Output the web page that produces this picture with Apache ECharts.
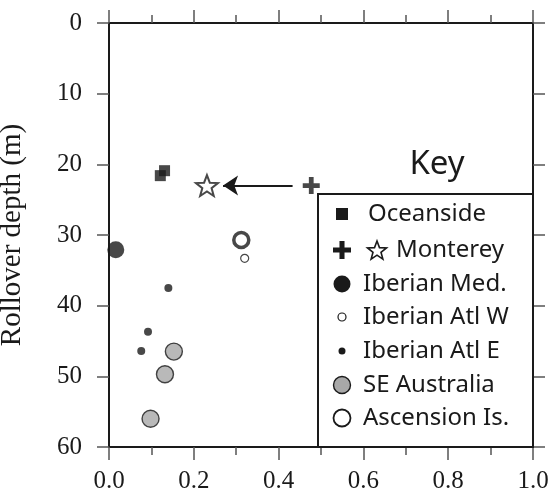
<!DOCTYPE html>
<html>
<head>
<meta charset="utf-8">
<script src="https://cdn.jsdelivr.net/npm/echarts@6/dist/echarts.min.js"></script>
</head>
<body style="margin:0;background:#fff">
<div id="chart" style="width:553px;height:502px"></div>
<script>
// data: [x, rollover depth (m)]
const oceanside = [[0.131, 20.9], [0.121, 21.6]];
const montereyPlus = [[0.477, 23.0]];
const montereyStar = [[0.231, 23.0]];
const montereyArrow = [[0.433, 23.0], [0.269, 23.0]];
const iberianMed = [[0.016, 32.1]];
const iberianAtlW = [[0.32, 33.3]];
const iberianAtlE = [[0.140, 37.5], [0.092, 43.7], [0.076, 46.4]];
const seAustralia = [[0.153, 46.5], [0.132, 49.7], [0.098, 56.0]];
const ascension = [[0.312, 30.7]];

const legendNames = ['Oceanside', 'Monterey', 'Iberian Med.', 'Iberian Atl W', 'Iberian Atl E', 'SE Australia', 'Ascension Is.'];

const PLUS = 'path://M0.36,0H0.64V0.36H1V0.64H0.64V1H0.36V0.64H0V0.36H0.36Z';
const STAR = 'path://M0,-1L0.247,-0.34L0.951,-0.309L0.399,0.13L0.588,0.809L0,0.42L-0.588,0.809L-0.399,0.13L-0.951,-0.309L-0.247,-0.34Z';

const ink = '#1a1a1a';
const serif = 'Liberation Serif';
const sans = 'Noto Sans';

const chart = echarts.init(document.getElementById('chart'));

// legend box drawn by hand (the Monterey row carries two symbols)
function starPoints(cx, cy, r) {
  const pts = [];
  for (let i = 0; i < 10; i++) {
    const a = -Math.PI / 2 + i * Math.PI / 5;
    const rr = i % 2 === 0 ? r : r * 0.42;
    pts.push([cx + rr * Math.cos(a), cy + rr * Math.sin(a)]);
  }
  return pts;
}
function plusPoints(cx, cy, s) {
  const a = s / 2, b = s * 0.14;
  return [[cx - b, cy - a], [cx + b, cy - a], [cx + b, cy - b], [cx + a, cy - b], [cx + a, cy + b], [cx + b, cy + b],
    [cx + b, cy + a], [cx - b, cy + a], [cx - b, cy + b], [cx - a, cy + b], [cx - a, cy - b], [cx - b, cy - b]];
}

const rowY = [214, 250, 284, 317, 351, 385, 418];
const iconX = 342;
const legendGraphics = [
  { type: 'rect', shape: { x: 318, y: 194, width: 215, height: 253 }, style: { fill: '#fff', stroke: ink, lineWidth: 2 } },
  { type: 'text', x: 437, y: 165, style: { text: 'Key', fontSize: 33, fontFamily: sans, fill: ink, align: 'center', verticalAlign: 'middle' } },
  { type: 'rect', shape: { x: iconX - 6, y: rowY[0] - 6, width: 12, height: 12 }, style: { fill: ink } },
  { type: 'polygon', shape: { points: plusPoints(iconX, rowY[1], 18) }, style: { fill: ink } },
  { type: 'polygon', shape: { points: starPoints(377, rowY[1] + 1, 10) }, style: { fill: '#fff', stroke: ink, lineWidth: 1.6 } },
  { type: 'circle', shape: { cx: iconX, cy: rowY[2], r: 8.5 }, style: { fill: ink } },
  { type: 'circle', shape: { cx: iconX, cy: rowY[3], r: 4 }, style: { fill: '#fff', stroke: ink, lineWidth: 1.2 } },
  { type: 'circle', shape: { cx: iconX, cy: rowY[4], r: 3.5 }, style: { fill: ink } },
  { type: 'circle', shape: { cx: iconX, cy: rowY[5], r: 8.5 }, style: { fill: '#a8a8a8', stroke: ink, lineWidth: 1.4 } },
  { type: 'circle', shape: { cx: iconX, cy: rowY[6], r: 8.5 }, style: { fill: '#fff', stroke: ink, lineWidth: 1.8 } }
];
legendNames.forEach((name, i) => {
  const x = i === 0 ? 368 : (i === 1 ? 396 : 363);
  legendGraphics.push({
    type: 'text', x: x, y: rowY[i],
    style: { text: name, fontSize: 24, fontFamily: sans, fill: ink, align: 'left', verticalAlign: 'middle' }
  });
});
legendGraphics.forEach(g => { g.z = 10; });

// tick label style, also passed as rich text so it sticks
const tickText = { fontFamily: serif, fontSize: 25, color: ink };

const xAxisBase = {
  type: 'value', min: 0, max: 1, interval: 0.2,
  axisLine: { show: true, onZero: false, lineStyle: { color: ink, width: 2 } },
  axisTick: { show: true, inside: false, length: 13, lineStyle: { color: '#555', width: 1.5 } },
  minorTick: { show: true, splitNumber: 2, length: 8, lineStyle: { color: '#555', width: 1.5 } },
  splitLine: { show: false }
};
const yAxisBase = {
  type: 'value', min: 0, max: 60, interval: 10, inverse: true,
  axisLine: { show: true, onZero: false, lineStyle: { color: ink, width: 2 } },
  axisTick: { show: true, inside: false, length: 12, lineStyle: { color: '#555', width: 1.5 } },
  splitLine: { show: false }
};

const option = {
  animation: false,
  grid: { left: 109, right: 20, top: 23, bottom: 55, outerBoundsMode: 'none' },
  xAxis: [
    Object.assign({}, xAxisBase, {
      position: 'bottom',
      axisLabel: Object.assign({ margin: 22, rich: { t: tickText }, formatter: v => '{t|' + v.toFixed(1) + '}' }, tickText)
    }),
    Object.assign({}, xAxisBase, { position: 'top', axisLabel: { show: false } })
  ],
  yAxis: [
    Object.assign({}, yAxisBase, {
      position: 'left',
      name: 'Rollover depth (m)',
      nameLocation: 'middle',
      nameRotate: 90,
      nameGap: 82,
      nameTextStyle: { fontFamily: serif, fontSize: 29, color: ink },
      axisLabel: Object.assign({ margin: 27, rich: { t: tickText }, formatter: v => '{t|' + v + '}' }, tickText)
    }),
    Object.assign({}, yAxisBase, { position: 'right', axisLabel: { show: false } })
  ],
  graphic: legendGraphics,
  series: [
    {
      name: 'Oceanside', type: 'scatter', data: oceanside, symbol: 'rect', symbolSize: 11,
      itemStyle: { color: ink }
    },
    {
      name: 'Monterey', type: 'scatter', data: montereyPlus, symbol: PLUS, symbolSize: 17,
      itemStyle: { color: ink },
      markLine: {
        silent: true, symbol: ['none', 'arrow'], symbolSize: [15, 15],
        label: { show: false },
        lineStyle: { color: ink, width: 2, type: 'solid' },
        data: [[{ coord: montereyArrow[0] }, { coord: montereyArrow[1] }]]
      }
    },
    {
      name: 'Monterey (revised)', type: 'scatter', data: montereyStar, symbol: STAR, symbolSize: 22,
      symbolKeepAspect: true,
      itemStyle: { color: '#fff', borderColor: ink, borderWidth: 2 }
    },
    {
      name: 'Iberian Med.', type: 'scatter', data: iberianMed, symbol: 'circle', symbolSize: 17,
      itemStyle: { color: ink }
    },
    {
      name: 'Ascension Is.', type: 'scatter', data: ascension, symbol: 'circle', symbolSize: 15,
      itemStyle: { color: '#fff', borderColor: ink, borderWidth: 3.5 }
    },
    {
      name: 'Iberian Atl W', type: 'scatter', data: iberianAtlW, symbol: 'circle', symbolSize: 8,
      itemStyle: { color: '#fff', borderColor: ink, borderWidth: 1.2 }
    },
    {
      name: 'Iberian Atl E', type: 'scatter', data: iberianAtlE, symbol: 'circle', symbolSize: 8,
      itemStyle: { color: ink }
    },
    {
      name: 'SE Australia', type: 'scatter', data: seAustralia, symbol: 'circle', symbolSize: 17,
      itemStyle: { color: '#a8a8a8', borderColor: ink, borderWidth: 1.4 }
    }
  ]
};

chart.setOption(option);
</script>
</body>
</html>
